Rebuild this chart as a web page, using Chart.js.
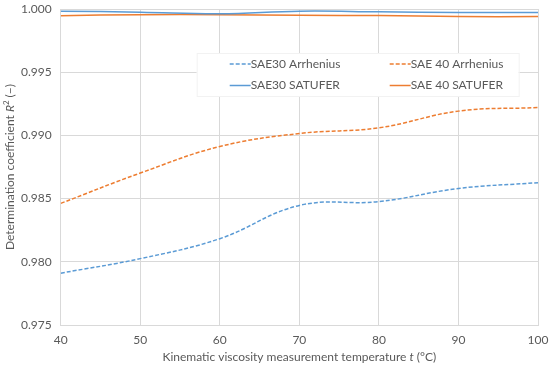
<!DOCTYPE html>
<html>
<head>
<meta charset="utf-8">
<script src="https://cdn.jsdelivr.net/npm/chart.js@4"></script>
<style>
  html, body { margin: 0; padding: 0; background: #fff; }
  #wrap { width: 550px; height: 366px; }
</style>
</head>
<body>
<div id="wrap"><canvas id="out"></canvas></div>
<script>
// temperatures (°C)
const temps = [40, 50, 60, 70, 80, 90, 100];

// R^2
const sae30Arrhenius = [0.9791, 0.98025, 0.98183, 0.98446, 0.98476, 0.9858, 0.98626];
const sae40Arrhenius = [0.98462, 0.98702, 0.98912, 0.99015, 0.99060, 0.99192, 0.9922];
const sae30Satufer = [0.99983, 0.99975, 0.99962, 0.99983, 0.99978, 0.99972, 0.99972];
const sae40Satufer = [0.99947, 0.99955, 0.99955, 0.99950, 0.99948, 0.99940, 0.99940];

const yTicks = [0.975, 0.980, 0.985, 0.990, 0.995, 1.000];

const BLUE = "#5B9BD5";
const ORANGE = "#ED7D31";
const TXT = "#595959";
const GRID = "#D9D9D9";
const FONT = "Lato";

function pts(vals) {
  return temps.map((t, i) => ({ x: t, y: vals[i] }));
}

// legend drawn inside the plot, 2 columns like the original
const boxLegend = {
  id: "boxLegend",
  afterDraw(chart) {
    const ctx = chart.ctx;
    const a = chart.chartArea;
    const x0 = a.left + 136, y0 = a.top + 44, w = 322, h = 43;
    ctx.save();
    ctx.fillStyle = "#fff";
    ctx.strokeStyle = "#F2F2F2";
    ctx.lineWidth = 1;
    ctx.fillRect(x0, y0, w, h);
    ctx.strokeRect(x0 + 0.5, y0 + 0.5, w, h);
    ctx.font = "12px " + FONT;
    ctx.textBaseline = "middle";
    chart.data.datasets.forEach((ds, i) => {
      const col = i % 2, row = Math.floor(i / 2);
      const lx = x0 + 33 + col * 160;
      const ly = y0 + 11 + row * 21.5;
      ctx.strokeStyle = ds.borderColor;
      ctx.lineWidth = 1.5;
      ctx.setLineDash(ds.borderDash || []);
      ctx.beginPath();
      ctx.moveTo(lx, ly);
      ctx.lineTo(lx + 21, ly);
      ctx.stroke();
      ctx.setLineDash([]);
      ctx.fillStyle = TXT;
      ctx.fillText(ds.label, lx + 21, ly);
    });
    ctx.restore();
  }
};

// axis titles with italic symbols
function richText(ctx, parts, cx, cy) {
  let total = 0;
  parts.forEach(p => { ctx.font = p.f; total += ctx.measureText(p.t).width; });
  let x = cx - total / 2;
  parts.forEach(p => {
    ctx.font = p.f;
    ctx.fillText(p.t, x, cy + (p.dy || 0));
    x += ctx.measureText(p.t).width;
  });
}

const axisTitles = {
  id: "axisTitles",
  afterDraw(chart) {
    const ctx = chart.ctx;
    const a = chart.chartArea;
    const n = "12px " + FONT, it = "italic 12px " + FONT, sup = "8px " + FONT;
    ctx.save();
    ctx.fillStyle = TXT;
    ctx.textBaseline = "middle";
    richText(ctx, [
      { t: "Kinematic viscosity measurement temperature ", f: n },
      { t: "t", f: it },
      { t: " (°C)", f: n }
    ], (a.left + a.right) / 2, 357);
    ctx.translate(10, (a.top + a.bottom) / 2);
    ctx.rotate(-Math.PI / 2);
    richText(ctx, [
      { t: "Determination coefficient ", f: n },
      { t: "R", f: it },
      { t: "2", f: sup, dy: -4 },
      { t: " (\u2212)", f: n }
    ], 0, 0);
    ctx.restore();
  }
};

const lineDefaults = {
  borderWidth: 1.5,
  pointRadius: 0,
  tension: 0.4,
  fill: false
};

function noPad(s) {
  s.paddingLeft = 0; s.paddingRight = 0;
  s.paddingTop = 0; s.paddingBottom = 0;
}

new Chart(document.getElementById("out").getContext("2d"), {
  type: "line",
  data: {
    datasets: [
      Object.assign({ label: "SAE30 Arrhenius", data: pts(sae30Arrhenius), borderColor: BLUE, backgroundColor: BLUE, borderDash: [4, 2] }, lineDefaults),
      Object.assign({ label: "SAE 40 Arrhenius", data: pts(sae40Arrhenius), borderColor: ORANGE, backgroundColor: ORANGE, borderDash: [4, 2] }, lineDefaults),
      Object.assign({ label: "SAE30 SATUFER", data: pts(sae30Satufer), borderColor: BLUE, backgroundColor: BLUE }, lineDefaults),
      Object.assign({ label: "SAE 40 SATUFER", data: pts(sae40Satufer), borderColor: ORANGE, backgroundColor: ORANGE }, lineDefaults)
    ]
  },
  options: {
    responsive: true,
    maintainAspectRatio: false,
    animation: false,
    layout: { padding: { top: 9, right: 12, left: 0, bottom: 0 } },
    plugins: { legend: { display: false }, tooltip: { enabled: false } },
    scales: {
      x: {
        type: "linear",
        min: 40, max: 100,
        afterFit(s) { s.height = 41; noPad(s); },
        afterBuildTicks(s) { s.ticks = temps.map(v => ({ value: v })); },
        grid: { color: GRID, drawTicks: false },
        border: { color: GRID },
        ticks: { color: TXT, font: { family: FONT, size: 12 }, padding: 8 }
      },
      y: {
        min: 0.975, max: 1.0,
        afterFit(s) { s.width = 60.7; noPad(s); },
        afterBuildTicks(s) { s.ticks = yTicks.map(v => ({ value: v })); },
        grid: { color: GRID, drawTicks: false },
        border: { color: GRID },
        ticks: {
          color: TXT, font: { family: FONT, size: 12 }, padding: 9,
          callback: v => v.toFixed(3)
        }
      }
    }
  },
  plugins: [boxLegend, axisTitles]
});
</script>
</body>
</html>
